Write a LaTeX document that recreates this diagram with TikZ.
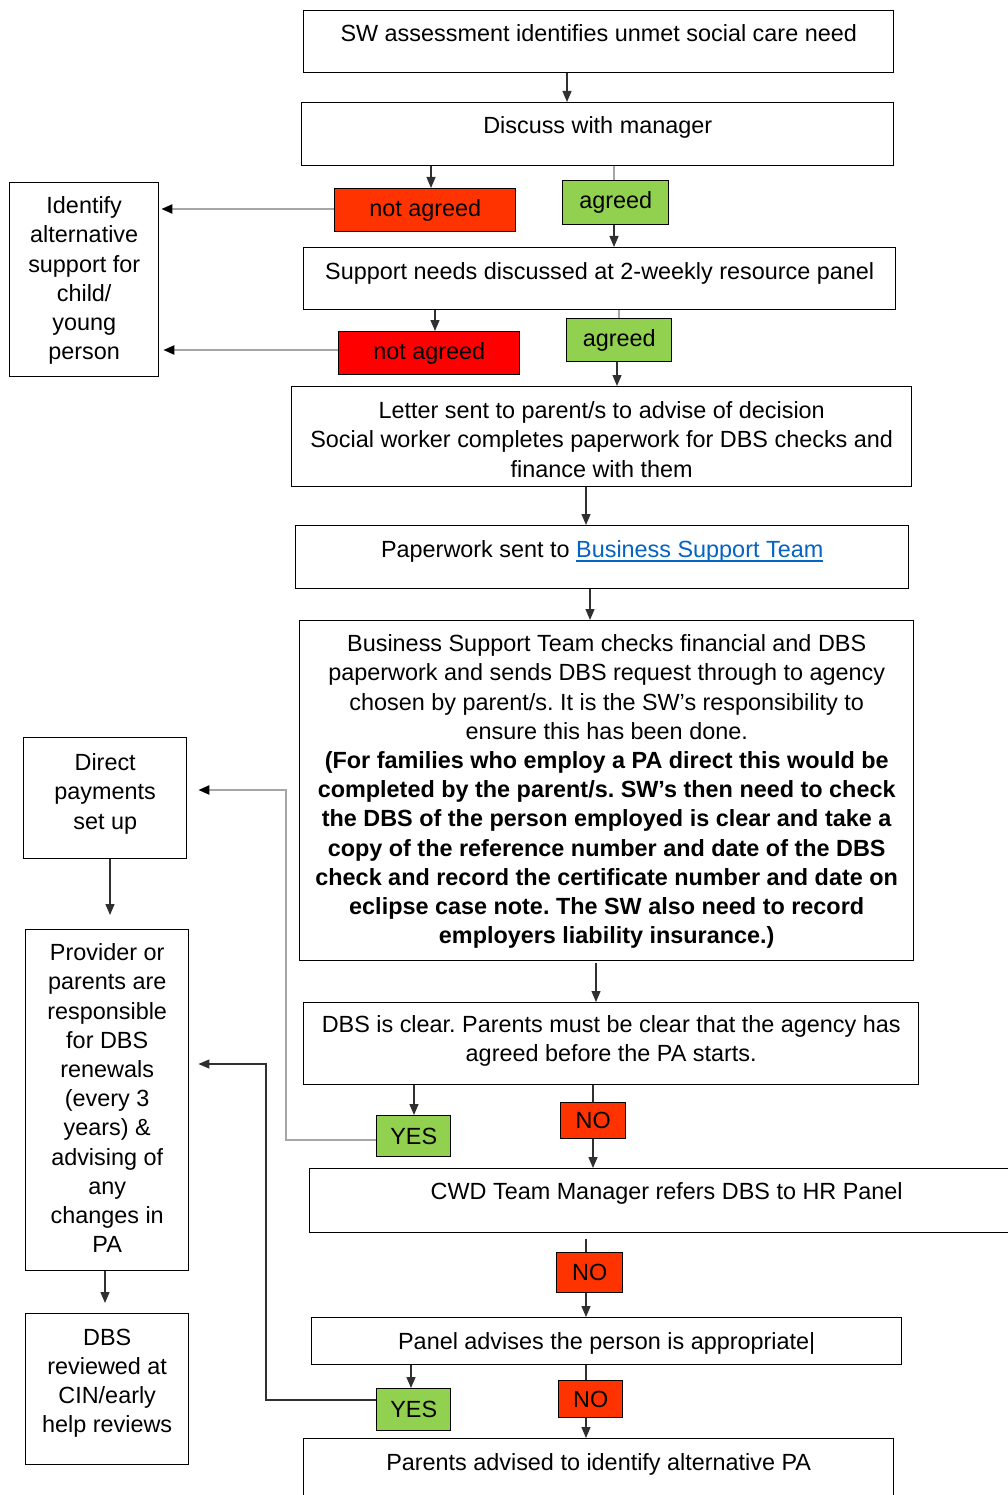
\documentclass[tikz,border=0pt]{standalone}
\usepackage{fontspec}
\setmainfont{Liberation Sans}
\usetikzlibrary{arrows.meta}
\definecolor{redA}{HTML}{FF3300}
\definecolor{redB}{HTML}{FF0000}
\definecolor{grn}{HTML}{92D050}
\definecolor{lnk}{HTML}{0563C1}
\definecolor{lgray}{HTML}{A6A6A6}
\definecolor{dgray}{HTML}{303030}
\frenchspacing
\newcommand{\fs}{\fontsize{23.4}{29.2}\selectfont}
\newcommand{\bxt}[4]{\begin{minipage}[c][#2pt][t]{#1pt}\centering\vspace*{#3pt}#4\end{minipage}}
\newcommand{\lnktext}[1]{{\color{lnk}\setbox0\hbox{#1}\rlap{\rule[-4pt]{\wd0}{2pt}}\box0}}
\begin{document}
\begin{tikzpicture}[x=1pt,y=-1pt,
  box/.style={draw=black,line width=1.4pt,inner sep=0pt,anchor=north west,font=\fs},
  tag/.style={draw=black,line width=1.4pt,inner sep=0pt,anchor=north west,font=\fs,align=center},
  arr/.style={draw=dgray,line width=1.3pt,-{Triangle[length=11pt,width=9pt]}},
  dl/.style={draw=dgray,line width=1.3pt},
  gln/.style={draw=lgray,line width=2.2pt},
  garr/.style={draw=lgray,line width=2.2pt,-{Triangle[length=11pt,width=9pt,color=black]}},
]
\clip (0,0) rectangle (1008,1495);
\fill[white] (0,0) rectangle (1008,1495);

% main column
\node[box] (b1) at (303,10) {\bxt{590}{62}{14}{SW assessment identifies unmet social care need}};
\node[box] (b2) at (301,102) {\bxt{592}{63}{14}{Discuss with manager}};
\node[tag,fill=redA,minimum width=181,minimum height=43] (na1) at (334,188) {not agreed};
\node[tag,fill=grn,minimum width=106,minimum height=44] (ag1) at (562,180) {agreed};
\node[box] (idt) at (9,182) {\bxt{149}{194}{14}{Identify\\alternative\\support for\\child/\\young\\person}};
\node[box] (b3) at (303,247) {\bxt{592}{62}{15}{Support needs discussed at 2-weekly resource panel}};
\node[tag,fill=redB,minimum width=181,minimum height=43] (na2) at (338,331) {not agreed};
\node[tag,fill=grn,minimum width=105,minimum height=43] (ag2) at (566,318) {agreed};
\node[box] (b4) at (291,386) {\bxt{620}{100}{15}{Letter sent to parent/s to advise of decision\\Social worker completes paperwork for DBS checks and\\finance with them}};
\node[box] (b5) at (295,525) {\bxt{613}{63}{15}{Paperwork sent to \lnktext{Business Support Team}}};
\node[box] (b6) at (299,620) {\bxt{614}{340}{14}{Business Support Team checks financial and DBS\\paperwork and sends DBS request through to agency\\chosen by parent/s. It is the SW’s responsibility to\\ensure this has been done.\\\textbf{(For families who employ a PA direct this would be}\\\textbf{completed by the parent/s. SW’s then need to check}\\\textbf{the DBS of the person employed is clear and take a}\\\textbf{copy of the reference number and date of the DBS}\\\textbf{check and record the certificate number and date on}\\\textbf{eclipse case note. The SW also need to record}\\\textbf{employers liability insurance.)}}};
\node[box] (b7) at (303,1002) {\bxt{615}{82}{13}{DBS is clear. Parents must be clear that the agency has\\agreed before the PA starts.}};
\node[tag,fill=grn,minimum width=74,minimum height=41] (yes1) at (376,1115) {YES};
\node[tag,fill=redA,minimum width=65,minimum height=36] (no1) at (560,1102) {NO};
\node[box] (b8) at (309,1168) {\bxt{714}{64}{14}{CWD Team Manager refers DBS to HR Panel}};
\node[tag,fill=redA,minimum width=66,minimum height=40] (no2) at (556,1252) {NO};
\node[box] (b9) at (311,1317) {\bxt{590}{47}{15}{Panel advises the person is appropriate|}};
\node[tag,fill=grn,minimum width=74,minimum height=42] (yes2) at (376,1388) {YES};
\node[tag,fill=redA,minimum width=64,minimum height=37] (no3) at (558,1380) {NO};
\node[box] (b10) at (303,1438) {\bxt{590}{75}{15}{Parents advised to identify alternative PA}};

% left column
\node[box] (dp) at (23,737) {\bxt{163}{121}{16}{Direct\\payments\\set up}};
\node[box] (pr) at (25,929) {\bxt{163}{341}{14}{Provider or\\parents are\\responsible\\for DBS\\renewals\\(every 3\\years) \&\\advising of\\any\\changes in\\PA}};
\node[box] (dr) at (25,1313) {\bxt{163}{151}{15}{DBS\\reviewed at\\CIN/early\\help reviews}};

% connectors
\draw[arr] (b1.south -| 567,0) -- (b2.north -| 567,0);
\draw[arr] (b2.south -| 431,0) -- (na1.north -| 431,0);
\draw[gln] (b2.south -| 614,0) -- (ag1.north -| 614,0);
\draw[arr] (ag1.south -| 614,0) -- (b3.north -| 614,0);
\draw[garr,shorten >=2pt] (na1.west |- 0,209) -- (idt.east |- 0,209);
\draw[arr] (b3.south -| 435,0) -- (na2.north -| 435,0);
\draw[gln] (b3.south -| 619,0) -- (ag2.north -| 619,0);
\draw[arr] (ag2.south -| 617,0) -- (b4.north -| 617,0);
\draw[garr,shorten >=4pt] (na2.west |- 0,350) -- (idt.east |- 0,350);
\draw[arr] (b4.south -| 586,0) -- (b5.north -| 586,0);
\draw[arr] (b5.south -| 590,0) -- (b6.north -| 590,0);
\draw[arr,shorten <=2pt] (b6.south -| 596,0) -- (b7.north -| 596,0);
\draw[arr] (b7.south -| 414,0) -- (yes1.north -| 414,0);
\draw[dl] (b7.south -| 593,0) -- (no1.north -| 593,0);
\draw[arr] (no1.south -| 593,0) -- (b8.north -| 593,0);
\draw[garr,shorten >=11pt] (yes1.west |- 0,1140) -- (286,1140) -- (286,790) -- (dp.east |- 0,790);
\draw[arr,shorten >=14pt] (dp.south -| 110,0) -- (pr.north -| 110,0);
\draw[arr,shorten >=10pt] (pr.south -| 105,0) -- (dr.north -| 105,0);
\draw[dl,shorten <=6pt] (b8.south -| 586,0) -- (no2.north -| 586,0);
\draw[arr] (no2.south -| 586,0) -- (b9.north -| 586,0);
\draw[arr] (b9.south -| 411,0) -- (yes2.north -| 411,0);
\draw[dl] (b9.south -| 586,0) -- (no3.north -| 586,0);
\draw[arr] (no3.south -| 586,0) -- (b10.north -| 586,0);
\draw[arr,shorten >=9pt] (yes2.west |- 0,1400) -- (266,1400) -- (266,1064) -- (pr.east |- 0,1064);
\end{tikzpicture}
\end{document}
